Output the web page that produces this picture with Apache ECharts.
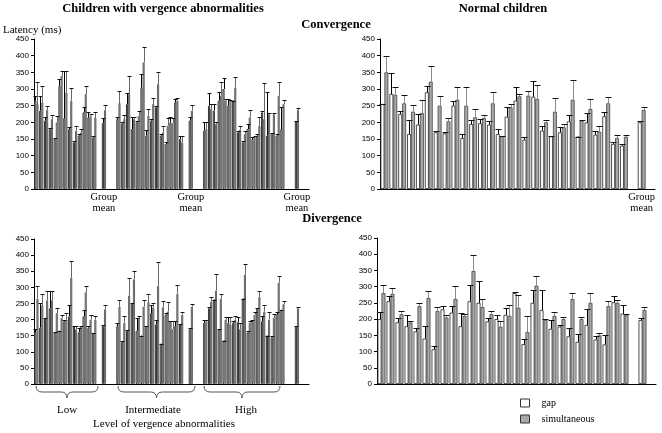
<!DOCTYPE html>
<html><head><meta charset="utf-8">
<script src="https://cdn.jsdelivr.net/npm/echarts@6/dist/echarts.min.js"></script>
<style>html,body{margin:0;padding:0;background:#fff}#c{width:662px;height:433px}</style>
</head><body><div id="c"></div>
<script>
// ---------- DATA (latency in ms) ----------
// Children with vergence abnormalities: subjects ordered Low (13), Intermediate (14), High (17)
const abnGroupSizes = [13, 14, 17];
const yTicks = [0, 50, 100, 150, 200, 250, 300, 350, 400, 450];

// Convergence – abnormal children
const convAbnGap   = [265,235,205,180,152,310,213,180,140,160,230,215,155,
                      210,197,255,180,200,305,160,205,245,160,135,200,260,150,
                      175,250,235,265,300,250,265,170,140,180,150,160,230,160,168,160,180];
const convAbnGapUp = [280,280,215,182,152,330,355,185,145,165,245,232,160,
                      215,200,287,217,205,345,178,210,250,165,140,215,270,160,
                      200,287,255,292,332,270,265,175,145,195,155,165,233,290,168,165,245];
const convAbnSim   = [255,260,238,210,200,340,290,265,175,170,285,220,215,
                      258,210,285,210,220,380,220,255,315,170,190,198,265,140,
                      180,240,195,280,265,265,305,178,165,215,155,190,210,225,225,280,255];
const convAbnSimUp = [320,310,248,222,218,355,355,303,188,180,310,225,230,
                      295,222,338,215,235,425,240,272,352,190,212,212,272,158,
                      200,255,200,320,270,268,337,190,175,238,158,215,318,228,228,320,268];
const convAbnMeanGap = [198, 205, 203], convAbnMeanGapUp = [212, 215, 205];
const convAbnMeanSim = [237, 235, 237], convAbnMeanSimUp = [252, 253, 242];

// Divergence – abnormal children
const divAbnGap   = [160,175,205,235,160,165,195,210,180,160,210,175,158,
                     180,130,165,250,165,150,180,220,185,125,215,195,180,185,
                     190,235,262,170,135,190,190,192,265,160,195,235,195,150,145,215,230];
const divAbnGapUp = [172,250,205,288,160,165,200,245,180,175,230,180,158,
                     188,133,168,250,205,150,180,245,200,125,220,195,195,185,
                     200,238,262,170,135,208,195,208,265,165,200,235,210,150,150,225,230];
const divAbnSim   = [265,245,260,260,220,205,200,330,170,180,285,200,200,
                     240,190,275,325,205,240,255,238,305,238,225,170,280,215,
                     195,255,290,265,200,185,200,170,340,190,215,270,225,200,205,315,248];
const divAbnSimUp = [305,280,288,288,235,215,220,382,180,180,305,215,210,
                     262,210,328,352,210,262,280,252,380,258,255,195,308,225,
                     200,270,340,280,208,208,210,190,372,195,225,290,245,222,218,335,258];
const divAbnMeanGap = [180, 170, 178], divAbnMeanGapUp = [183, 175, 180];
const divAbnMeanSim = [232, 240, 235], divAbnMeanSimUp = [245, 248, 240];

// Normal children (28 subjects)
const convNorGap   = [255,285,225,165,193,290,170,167,250,153,195,197,193,165,217,265,148,277,175,158,170,203,157,200,163,218,135,130];
const convNorGapUp = [255,348,235,208,225,308,175,172,264,165,207,210,205,180,245,305,155,323,190,160,187,223,157,228,175,232,140,135];
const convNorSim   = [350,283,257,232,228,322,250,203,268,250,215,213,257,158,245,278,280,270,200,232,185,268,205,240,172,257,153,157];
const convNorSimUp = [400,307,281,252,267,370,280,213,305,307,240,223,290,160,255,285,293,313,208,272,195,328,207,270,190,277,163,163];
const convNorMean = [200, 205, 237, 246]; // gap, gap upper, sim, sim upper

const divNorGap   = [200,255,190,178,162,140,107,230,220,178,255,250,193,200,213,280,123,250,228,170,177,147,130,182,137,122,252,217];
const divNorGapUp = [222,272,202,212,173,178,118,240,240,220,305,317,203,213,235,285,138,290,290,198,183,172,155,232,148,150,270,245];
const divNorSim   = [280,278,215,190,240,265,225,205,262,210,348,237,215,177,210,235,160,303,198,210,200,262,200,250,150,240,250,213];
const divNorSimUp = [305,297,226,195,250,287,237,212,302,215,398,262,226,195,245,275,210,333,200,222,205,280,208,282,158,257,260,217];
const divNorMean = [197, 202, 228, 237];

const groupLabels = ['Low', 'Intermediate', 'High'];

// ---------- BUILD ----------
const SERIF = '"Liberation Serif","DejaVu Serif",serif';
const SANS = '"Liberation Sans",Arial,sans-serif';
const CAT_GAP = 0.12;

function buildAbn(gap, gapUp, sim, simUp, mg, mgu, ms, msu) {
  const G = [], GU = [], S = [], SU = [], gm = [];
  let k = 0;
  const pre = [0, 1, 1], post = [1, 1, 2], after = [1, 1, 2];
  const blank = () => { G.push(null); GU.push(null); S.push(null); SU.push(null); };
  abnGroupSizes.forEach((n, g) => {
    for (let i = 0; i < pre[g]; i++) blank();
    for (let i = 0; i < n; i++, k++) { G.push(gap[k]); GU.push(gapUp[k]); S.push(sim[k]); SU.push(simUp[k]); }
    for (let i = 0; i < post[g]; i++) blank();
    gm.push(G.length);
    G.push(mg[g]); GU.push(mgu[g]); S.push(ms[g]); SU.push(msu[g]);
    for (let i = 0; i < after[g]; i++) blank();
  });
  return { G, GU, S, SU, gm };
}
function buildNor(gap, gapUp, sim, simUp, mean) {
  const G = gap.slice(), GU = gapUp.slice(), S = sim.slice(), SU = simUp.slice();
  G.push(null); GU.push(null); S.push(null); SU.push(null);
  const gm = [G.length];
  G.push(mean[0]); GU.push(mean[1]); S.push(mean[2]); SU.push(mean[3]);
  G.push(null); GU.push(null); S.push(null); SU.push(null);
  return { G, GU, S, SU, gm };
}

const panels = [
  { d: buildAbn(convAbnGap, convAbnGapUp, convAbnSim, convAbnSimUp, convAbnMeanGap, convAbnMeanGapUp, convAbnMeanSim, convAbnMeanSimUp),
    grid: { left: 34, top: 39, width: 275, height: 150 }, labels: true, narrow: true },
  { d: buildNor(convNorGap, convNorGapUp, convNorSim, convNorSimUp, convNorMean),
    grid: { left: 380, top: 39, width: 275, height: 150 }, labels: true, narrow: false },
  { d: buildAbn(divAbnGap, divAbnGapUp, divAbnSim, divAbnSimUp, divAbnMeanGap, divAbnMeanGapUp, divAbnMeanSim, divAbnMeanSimUp),
    grid: { left: 34, top: 239, width: 275, height: 145 }, labels: false, narrow: true },
  { d: buildNor(divNorGap, divNorGapUp, divNorSim, divNorSimUp, divNorMean),
    grid: { left: 377, top: 238, width: 279, height: 146 }, labels: false, narrow: false }
];

const grids = [], xAxes = [], yAxes = [], series = [];
panels.forEach((p, i) => {
  const d = p.d;
  const cats = d.G.map((_, j) => 'c' + i + '_' + j);
  const gmSet = new Set(d.gm);
  grids.push(Object.assign({ containLabel: false }, p.grid));
  xAxes.push({
    type: 'category', gridIndex: i, data: cats,
    axisLine: { lineStyle: { color: '#000', width: 1 } },
    axisTick: { show: false },
    axisLabel: { show: p.labels, interval: 0, margin: 3, color: '#000', fontFamily: SERIF, fontSize: 10.5, lineHeight: 11,
      formatter: (v, idx) => gmSet.has(idx) ? 'Group\nmean' : '' }
  });
  yAxes.push({
    type: 'value', gridIndex: i, min: yTicks[0], max: yTicks[yTicks.length - 1], interval: yTicks[1] - yTicks[0],
    axisLine: { show: true, lineStyle: { color: '#000', width: 1 } },
    axisTick: { show: true, length: 3, lineStyle: { color: '#000' } },
    splitLine: { show: false },
    axisLabel: { color: '#000', fontFamily: SANS, fontSize: 8, margin: 5 }
  });
  const bw = p.narrow ? 1 : 0.8;
  series.push({
    type: 'bar', name: 'gap', xAxisIndex: i, yAxisIndex: i, data: d.G,
    barGap: '0%', barCategoryGap: (CAT_GAP * 100) + '%',
    itemStyle: { color: '#ffffff', borderColor: p.narrow ? '#333' : '#222', borderWidth: bw },
    silent: true, animation: false
  });
  series.push({
    type: 'bar', name: 'simultaneous', xAxisIndex: i, yAxisIndex: i, data: d.S,
    barGap: '0%', barCategoryGap: (CAT_GAP * 100) + '%',
    itemStyle: { color: p.narrow ? '#999' : '#a8a8a8', borderColor: p.narrow ? '#666' : '#444', borderWidth: bw },
    silent: true, animation: false
  });
  const eb = [];
  d.G.forEach((v, j) => {
    if (v == null) return;
    eb.push([j, v, d.GU[j], -1]);
    eb.push([j, d.S[j], d.SU[j], 1]);
  });
  const capW = p.narrow ? 4 : 6;
  series.push({
    type: 'custom', xAxisIndex: i, yAxisIndex: i, data: eb, silent: true, animation: false, z: 5,
    renderItem: (params, api) => {
      const x = api.value(0), v = api.value(1), up = api.value(2), side = api.value(3);
      const p0 = api.coord([x, v]), p1 = api.coord([x, up]);
      const slot = api.size([1, 0])[0];
      const barW = slot * (1 - CAT_GAP) / 2;
      const cx = Math.round(p0[0] + side * barW / 2) + 0.5;
      const y1 = Math.round(p1[1]) + 0.5;
      const lineCol = side < 0 ? '#000' : (p.narrow ? '#666' : '#8a8a8a');
      return { type: 'group', children: [
        { type: 'line', shape: { x1: cx, y1: p0[1], x2: cx, y2: y1 }, style: { stroke: lineCol, lineWidth: 1 } },
        { type: 'line', shape: { x1: cx - capW / 2, y1: y1, x2: cx + capW / 2, y2: y1 }, style: { stroke: '#111', lineWidth: 1 } }
      ]};
    }
  });
});

// braces under the bottom-left panel (decoration)
const braceX = [[36, 98], [118, 195], [204, 280]];
const graphics = [];
const bst = { stroke: '#555', lineWidth: 1, fill: null };
braceX.forEach(b => {
  const x1 = b[0], x2 = b[1], m = (x1 + x2) / 2, y = 386, r = 6;
  graphics.push({ type: 'bezierCurve', shape: { x1: x1, y1: y, cpx1: x1, cpy1: y + 6, x2: x1 + r, y2: y + 6 }, style: bst, silent: true });
  graphics.push({ type: 'line', shape: { x1: x1 + r, y1: y + 6, x2: m - r, y2: y + 6 }, style: bst, silent: true });
  graphics.push({ type: 'bezierCurve', shape: { x1: m - r, y1: y + 6, cpx1: m, cpy1: y + 6, x2: m, y2: y + 12 }, style: bst, silent: true });
  graphics.push({ type: 'bezierCurve', shape: { x1: m, y1: y + 12, cpx1: m, cpy1: y + 6, x2: m + r, y2: y + 6 }, style: bst, silent: true });
  graphics.push({ type: 'line', shape: { x1: m + r, y1: y + 6, x2: x2 - r, y2: y + 6 }, style: bst, silent: true });
  graphics.push({ type: 'bezierCurve', shape: { x1: x2 - r, y1: y + 6, cpx1: x2, cpy1: y + 6, x2: x2, y2: y }, style: bst, silent: true });
});
function txt(t, x, y, font, align) {
  return { type: 'text', x: x, y: y, silent: true,
    style: { text: t, font: font, fill: '#000', textAlign: align || 'center', textVerticalAlign: 'middle', verticalAlign: 'middle' } };
}
const groupLabelX = [67, 153, 246];
groupLabels.forEach((t, i) => graphics.push(txt(t, groupLabelX[i], 410, '11px ' + SERIF)));
graphics.push(txt('Level of vergence abnormalities', 164, 424, '11px ' + SERIF));
graphics.push(txt('Latency (ms)', 3, 30, '11px ' + SERIF, 'left'));
const TB = 'bold 12.5px ' + SERIF;
graphics.push(txt('Children with vergence abnormalities', 163, 9, TB));
graphics.push(txt('Normal children', 503, 8.5, TB));
graphics.push(txt('Convergence', 336, 24.5, TB));
graphics.push(txt('Divergence', 332, 219, TB));

const chart = echarts.init(document.getElementById('c'), null, { renderer: 'canvas' });
chart.setOption({
  animation: false,
  backgroundColor: '#fff',
  legend: {
    orient: 'vertical', left: 520, top: 398, padding: 0, itemWidth: 9, itemHeight: 8, itemGap: 6,
    icon: 'rect', selectedMode: false,
    textStyle: { fontFamily: SERIF, fontSize: 10, lineHeight: 10, color: '#000', padding: [0, 0, 0, 7] },
    data: [
      { name: 'gap', itemStyle: { color: '#fff', borderColor: '#333', borderWidth: 1 } },
      { name: 'simultaneous', itemStyle: { color: '#a8a8a8', borderColor: '#333', borderWidth: 1 } }
    ]
  },
  grid: grids, xAxis: xAxes, yAxis: yAxes, series: series,
  graphic: graphics
});
</script></body></html>
